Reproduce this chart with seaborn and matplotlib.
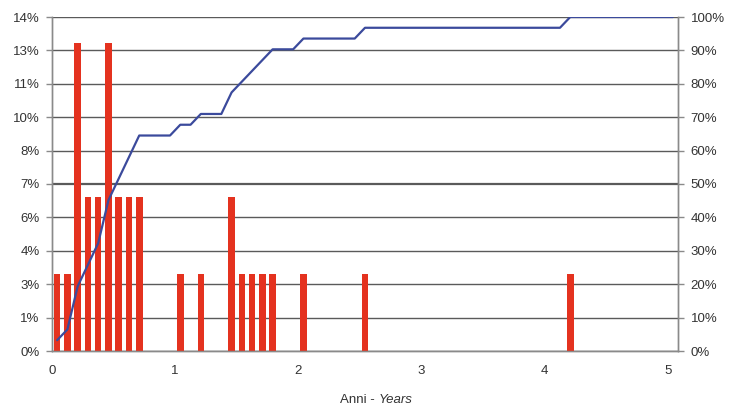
import matplotlib
matplotlib.use("Agg")
import matplotlib.pyplot as plt
import numpy as np
import pandas as pd
import seaborn as sns

# months (from start) that have at least one case, and the number of cases
months = [0, 1, 2, 3, 4, 5, 6, 7, 8, 12, 14, 17, 18, 19, 20, 21, 24, 30, 50]
counts = [1, 1, 4, 2, 2, 4, 2, 2, 2, 1, 1, 2, 1, 1, 1, 1, 1, 1, 1]
n_months = 61

left_ticks = np.linspace(0, 14, 11)
right_ticks = np.arange(0, 101, 10)
x_ticks = [0, 1, 2, 3, 4, 5]

bar_color = "#e4321f"
line_color = "#3b4a9c"
grid_color = "#5a5a5a"
spine_color = "#8a8a8a"

total = sum(counts)
per_month = np.zeros(n_months)
per_month[months] = counts

bars = pd.DataFrame({
    "years": (np.array(months) + 0.5) / 12,
    "pct": np.array(counts) / total * 100,
})
cumul = pd.DataFrame({
    "years": (np.arange(n_months) + 0.5) / 12,
    "pct": np.cumsum(per_month) / total * 100,
})

sns.set_theme(style="white")
plt.rcParams["font.family"] = ["Liberation Sans", "DejaVu Sans"]

fig = plt.figure(figsize=(7.33, 4.07), dpi=100)
ax = fig.add_axes([52 / 733, 1 - 351 / 407, 626 / 733, 334 / 407])

for v in left_ticks:
    ax.axhline(v, color=grid_color, lw=1.6 if np.isclose(v, 7) else 1.0, zorder=0)

sns.barplot(data=bars, x="years", y="pct", native_scale=True, width=0.64,
            color=bar_color, saturation=1, linewidth=0, ax=ax, zorder=3)

ax.set_xlim(0, n_months / 12)
ax.set_ylim(0, 14)
ax.set_yticks(left_ticks)
ax.set_yticklabels([f"{v:.0f}%" for v in left_ticks])
ax.set_xticks(x_ticks)
ax.set_xticklabels([str(v) for v in x_ticks])
ax.set_xlabel("")
ax.set_ylabel("")

ax2 = ax.twinx()
sns.lineplot(data=cumul, x="years", y="pct", color=line_color, lw=1.6, ax=ax2)
ax2.set_ylim(0, 100)
ax2.set_yticks(right_ticks)
ax2.set_yticklabels([f"{v}%" for v in right_ticks])
ax2.set_ylabel("")

for a in (ax, ax2):
    a.spines["top"].set_visible(False)
    for s in ("left", "right", "bottom"):
        a.spines[s].set_color(spine_color)
        a.spines[s].set_linewidth(1.0)
    a.tick_params(colors=spine_color, labelcolor="#333333", labelsize=9.5,
                  length=4, width=1.0, direction="out", pad=5)
ax.tick_params(axis="x", pad=6)

fig.text(378 / 733, 1 - 400 / 407, "Anni - ", ha="right", va="center",
         fontsize=9.5, color="#333333")
fig.text(379 / 733, 1 - 400 / 407, "Years", ha="left", va="center",
         fontsize=9.5, color="#333333", style="italic")

fig.savefig("out.png", dpi=100)
